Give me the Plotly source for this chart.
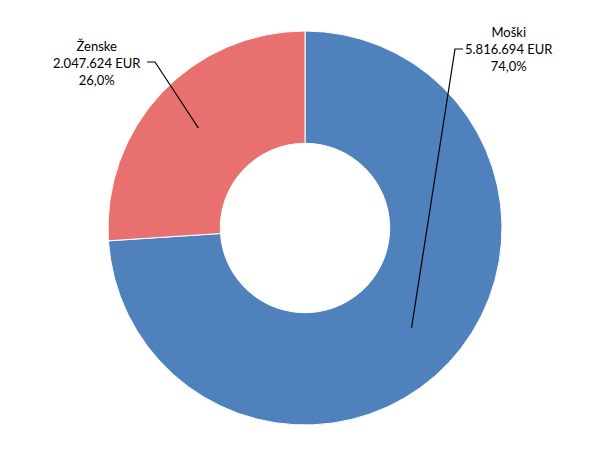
import math
import plotly.graph_objects as go

labels = ["Moški", "Ženske"]
values = [5816694, 2047624]
colors = ["#4F81BD", "#E8716F"]

W, H = 609, 457
OFF = 8  # page body margin compensation
cx, cy, R = 305 - OFF, 228 - OFF, 197
hole = 0.43

def fmt_num(v):
    return f"{v:,}".replace(",", ".")

def fmt_pct(p):
    return f"{p:.1f}".replace(".", ",") + "%"

total = sum(values)

fig = go.Figure(go.Pie(
    labels=labels, values=values, hole=hole, sort=False,
    direction="clockwise", rotation=0,
    marker=dict(colors=colors, line=dict(color="white", width=1)),
    textinfo="none", hoverinfo="label+value+percent", showlegend=False,
    domain=dict(x=[(cx - R) / W, (cx + R) / W], y=[1 - (cy + R) / H, 1 - (cy - R) / H]),
))

label_pos = [(509 - OFF, 49.5 - OFF), (97.5 - OFF, 63 - OFF)]
elbows = [[(463 - OFF, 49 - OFF), (455 - OFF, 49 - OFF)],
          [(147 - OFF, 62 - OFF), (155 - OFF, 62 - OFF)]]
r_end = 146

def px2paper(x, y):
    return x / W, 1 - y / H

cum = 0
annotations, shapes = [], []
for i, (lab, v) in enumerate(zip(labels, values)):
    frac = v / total
    mid = cum + frac / 2
    cum += frac
    ang = math.radians(90 - mid * 360)
    ex, ey = cx + r_end * math.cos(ang), cy - r_end * math.sin(ang)
    tx, ty = px2paper(*label_pos[i])
    annotations.append(dict(
        x=tx, y=ty, xref="paper", yref="paper", showarrow=False,
        text=f"{lab}<br>{fmt_num(v)} EUR<br>{fmt_pct(frac * 100)}",
        font=dict(family="Lato, Open Sans, sans-serif", size=13, color="#000000"),
        align="center", xanchor="center", yanchor="middle",
    ))
    pts = [px2paper(*p) for p in elbows[i]] + [px2paper(ex, ey)]
    path = "M " + " L ".join(f"{x:.5f},{y:.5f}" for x, y in pts)
    shapes.append(dict(type="path", path=path, xref="paper", yref="paper",
                       line=dict(color="black", width=1.2)))

fig.update_layout(
    width=W, height=H, margin=dict(l=0, r=0, t=0, b=0),
    paper_bgcolor="white", plot_bgcolor="white",
    annotations=annotations, shapes=shapes,
)

fig.write_html("out.html")
